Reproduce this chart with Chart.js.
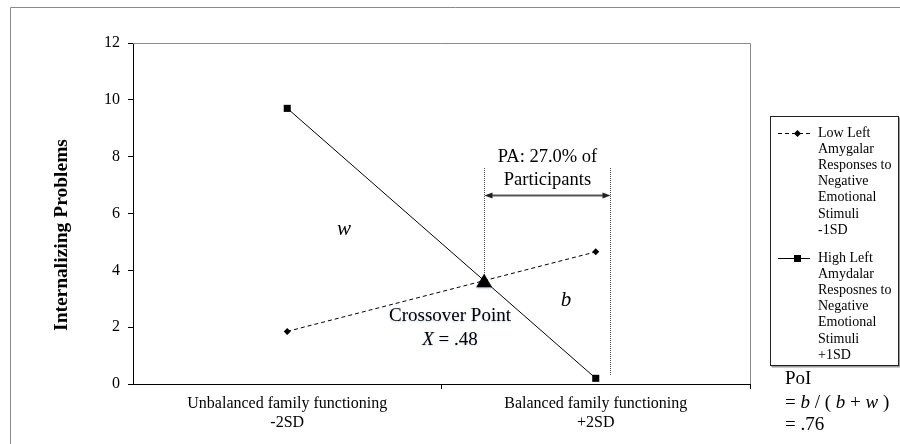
<!DOCTYPE html>
<html>
<head>
<meta charset="utf-8">
<script src="https://cdn.jsdelivr.net/npm/chart.js@4.4.1/dist/chart.umd.min.js"></script>
<style>
  html, body { margin: 0; padding: 0; background: #fff; }
  #wrap { width: 900px; height: 444px; }
</style>
</head>
<body>
<div id="wrap"><canvas id="c" width="900" height="444"></canvas></div>
<script>
// Family functioning levels (in SD units) and their axis labels
const familyLevels = [-2, 2];
const familyLabels = [
  ['Unbalanced family functioning', '-2SD'],
  ['Balanced family functioning', '+2SD']
];

// Internalizing problems for low (-1SD) and high (+1SD) left amygdala response
const lowAmygdala = [1.85, 4.65];
const highAmygdala = [9.7, 0.2];

// Y axis
const yTicks = [0, 2, 4, 6, 8, 10, 12];
const yTitle = 'Internalizing Problems';

// Legend entries
const legendLow = ['Low Left', 'Amygalar', 'Responses to', 'Negative', 'Emotional', 'Stimuli', '-1SD'];
const legendHigh = ['High Left', 'Amydalar', 'Resposnes to', 'Negative', 'Emotional', 'Stimuli', '+1SD'];

// Region of significance (PA) and index of interaction (PoI)
const paLines = ['PA: 27.0% of', 'Participants'];
const regionEndX = 2.18;     // right boundary of the PA region
const regionTopY = 7.6;      // top of the boundary lines
const regionBottomY = 0.32;  // bottom of the right boundary line
const arrowY = 6.65;         // level of the PA double arrow
const crossoverName = 'Crossover Point';
const crossoverX = '.48';
const poiValue = '.76';

const SERIF = '"Liberation Serif", "Times New Roman", serif';

// Where the two simple slopes cross, computed from the series
function crossing() {
  const [x0, x1] = familyLevels;
  const sL = (lowAmygdala[1] - lowAmygdala[0]) / (x1 - x0);
  const sH = (highAmygdala[1] - highAmygdala[0]) / (x1 - x0);
  const x = x0 + (highAmygdala[0] - lowAmygdala[0]) / (sL - sH);
  return { x, y: lowAmygdala[0] + sL * (x - x0) };
}

function text(ctx, str, x, y, font, align) {
  ctx.font = font;
  ctx.textAlign = align || 'center';
  ctx.textBaseline = 'middle';
  ctx.fillStyle = '#000';
  ctx.fillText(str, x, y);
}

// Draw a run of plain/italic pieces starting at x
function runs(ctx, parts, x, y, size) {
  ctx.textBaseline = 'middle';
  ctx.textAlign = 'left';
  ctx.fillStyle = '#000';
  for (const [s, it] of parts) {
    ctx.font = (it ? 'italic ' : '') + size + 'px ' + SERIF;
    ctx.fillText(s, x, y);
    x += ctx.measureText(s).width;
  }
  return x;
}

function runsWidth(ctx, parts, size) {
  let w = 0;
  for (const [s, it] of parts) {
    ctx.font = (it ? 'italic ' : '') + size + 'px ' + SERIF;
    w += ctx.measureText(s).width;
  }
  return w;
}

const overlay = {
  id: 'overlay',
  beforeDraw(chart) {
    const ctx = chart.ctx;
    ctx.save();
    ctx.fillStyle = '#fff';
    ctx.fillRect(0, 0, chart.width, chart.height);
    ctx.restore();
  },
  afterDatasetsDraw(chart) {
    const ctx = chart.ctx;
    const xs = chart.scales.x, ys = chart.scales.y;
    const a = chart.chartArea;
    ctx.save();

    // outer frame
    ctx.strokeStyle = '#8a8a8a';
    ctx.lineWidth = 1;
    ctx.beginPath();
    ctx.moveTo(10.5, chart.height + 2);
    ctx.lineTo(10.5, 7.5);
    ctx.lineTo(chart.width + 2, 7.5);
    ctx.stroke();

    // plot area top and right edges
    ctx.strokeStyle = '#8a8a8a';
    ctx.beginPath();
    ctx.moveTo(a.left, Math.round(a.top) + 0.5);
    ctx.lineTo(Math.round(a.right) + 0.5, Math.round(a.top) + 0.5);
    ctx.lineTo(Math.round(a.right) + 0.5, a.bottom);
    ctx.stroke();

    // crossover marker
    const c = crossing();
    const cx = xs.getPixelForValue(c.x), cy = ys.getPixelForValue(c.y);

    // PA boundary lines
    const rx = Math.round(xs.getPixelForValue(regionEndX)) + 0.5;
    const lx = Math.round(cx) + 0.5;
    const top = ys.getPixelForValue(regionTopY);
    ctx.strokeStyle = '#444';
    ctx.lineWidth = 1;
    ctx.setLineDash([1, 1]);
    ctx.beginPath();
    ctx.moveTo(lx, top); ctx.lineTo(lx, cy);
    ctx.moveTo(rx, top); ctx.lineTo(rx, ys.getPixelForValue(regionBottomY));
    ctx.stroke();
    ctx.setLineDash([]);

    // double arrow
    const ay = Math.round(ys.getPixelForValue(arrowY)) + 0.5;
    ctx.strokeStyle = '#555';
    ctx.fillStyle = '#222';
    ctx.lineWidth = 2;
    ctx.beginPath();
    ctx.moveTo(lx + 5, ay); ctx.lineTo(rx - 5, ay);
    ctx.stroke();
    ctx.beginPath();
    ctx.moveTo(lx, ay); ctx.lineTo(lx + 8, ay - 3); ctx.lineTo(lx + 8, ay + 3); ctx.closePath();
    ctx.moveTo(rx, ay); ctx.lineTo(rx - 8, ay - 3); ctx.lineTo(rx - 8, ay + 3); ctx.closePath();
    ctx.fill();

    // triangle at the crossing
    ctx.fillStyle = '#000';
    ctx.save();
    ctx.shadowColor = 'rgba(70,110,190,0.45)';
    ctx.shadowBlur = 2;
    ctx.shadowOffsetY = 1;
    ctx.beginPath();
    ctx.moveTo(cx, cy - 7);
    ctx.lineTo(cx + 8, cy + 6.5);
    ctx.lineTo(cx - 8, cy + 6.5);
    ctx.closePath();
    ctx.fill();
    ctx.restore();

    // PA label
    const pax = (lx + rx) / 2;
    text(ctx, paLines[0], pax, 157, '18.5px ' + SERIF);
    text(ctx, paLines[1], pax, 180, '18.5px ' + SERIF);

    // w and b regions
    text(ctx, 'w', 344, 229, 'italic 21px ' + SERIF);
    text(ctx, 'b', 566, 300, 'italic 21px ' + SERIF);

    // crossover label
    ctx.save();
    ctx.shadowColor = 'rgba(90,120,180,0.35)';
    ctx.shadowBlur = 2;
    ctx.shadowOffsetY = 1;
    text(ctx, crossoverName, 450, 316, '19px ' + SERIF);
    const xParts = [['X', true], [' = ' + crossoverX, false]];
    const xw = runsWidth(ctx, xParts, 19);
    runs(ctx, xParts, 450 - xw / 2, 340, 19);
    ctx.restore();

    // y axis title
    ctx.save();
    ctx.translate(62, 235);
    ctx.rotate(-Math.PI / 2);
    text(ctx, yTitle, 0, 0, 'bold 19.5px ' + SERIF);
    ctx.restore();

    // legend box
    const L = 770.5, T = 116.5, R = 898.5, B = 365.5;
    ctx.strokeStyle = '#9a9a9a';
    ctx.lineWidth = 2;
    ctx.beginPath();
    ctx.moveTo(L + 1, B + 1); ctx.lineTo(R + 1, B + 1); ctx.lineTo(R + 1, T + 1);
    ctx.stroke();
    ctx.strokeStyle = '#222';
    ctx.lineWidth = 1;
    ctx.strokeRect(L, T, R - L, B - T);

    const ds = chart.data.datasets;
    // low entry symbol
    ctx.strokeStyle = ds[0].borderColor;
    ctx.lineWidth = 1;
    ctx.setLineDash(ds[0].borderDash);
    ctx.beginPath();
    ctx.moveTo(778, 133.5); ctx.lineTo(813, 133.5);
    ctx.stroke();
    ctx.setLineDash([]);
    ctx.fillStyle = '#000';
    ctx.beginPath();
    ctx.moveTo(797.5, 130); ctx.lineTo(801, 133.5); ctx.lineTo(797.5, 137); ctx.lineTo(794, 133.5);
    ctx.closePath(); ctx.fill();
    // high entry symbol
    ctx.strokeStyle = ds[1].borderColor;
    ctx.beginPath();
    ctx.moveTo(778, 258.5); ctx.lineTo(810, 258.5);
    ctx.stroke();
    ctx.fillRect(794, 255, 7, 7);

    legendLow.forEach((s, i) => text(ctx, s, 818, 133 + i * 16.2, '14px ' + SERIF, 'left'));
    legendHigh.forEach((s, i) => text(ctx, s, 818, 258 + i * 16.2, '14px ' + SERIF, 'left'));

    // PoI
    text(ctx, 'PoI', 785, 379, '19px ' + SERIF, 'left');
    runs(ctx, [['= ', false], ['b', true], [' / ( ', false], ['b', true], [' + ', false], ['w', true], [' )', false]], 785, 403, 19);
    text(ctx, '= ' + poiValue, 785, 425, '19px ' + SERIF, 'left');

    ctx.restore();
  }
};

const toPoints = vals => familyLevels.map((x, i) => ({ x, y: vals[i] }));

new Chart(document.getElementById('c'), {
  type: 'line',
  data: {
    datasets: [
      {
        label: legendLow.join(' '),
        data: toPoints(lowAmygdala),
        borderColor: '#000',
        borderWidth: 1,
        borderDash: [4, 3],
        pointStyle: 'rectRot',
        pointRadius: 3.5,
        pointBackgroundColor: '#000',
        pointBorderColor: '#000',
        pointBorderWidth: 0,
        tension: 0
      },
      {
        label: legendHigh.join(' '),
        data: toPoints(highAmygdala),
        borderColor: '#000',
        borderWidth: 1,
        pointStyle: 'rect',
        pointRadius: 5,
        pointBackgroundColor: '#000',
        pointBorderColor: '#000',
        pointBorderWidth: 0,
        tension: 0
      }
    ]
  },
  options: {
    responsive: false,
    animation: false,
    devicePixelRatio: 1,
    layout: { padding: { left: 0, top: 43, right: 150, bottom: 0 } },
    plugins: { legend: { display: false }, tooltip: { enabled: false } },
    scales: {
      x: {
        type: 'linear',
        min: -4,
        max: 4,
        afterBuildTicks: s => { s.ticks = [-4, familyLevels[0], 0, familyLevels[1], 4].map(v => ({ value: v })); },
        afterFit: s => { s.height = 60; },
        ticks: {
          autoSkip: false,
          maxRotation: 0,
          padding: 5,
          color: '#000',
          font: { family: SERIF, size: 16, lineHeight: 1.2 },
          callback: v => { const i = familyLevels.indexOf(v); return i >= 0 ? familyLabels[i] : ''; }
        },
        grid: {
          drawOnChartArea: false,
          drawTicks: true,
          tickLength: 5,
          color: ctx => (ctx.tick && familyLevels.indexOf(ctx.tick.value) < 0 && ctx.tick.value !== -4) ? '#000' : 'rgba(0,0,0,0)'
        },
        border: { color: '#000', width: 1 }
      },
      y: {
        min: yTicks[0],
        max: yTicks[yTicks.length - 1],
        afterBuildTicks: s => { s.ticks = yTicks.map(v => ({ value: v })); },
        afterFit: s => { s.width = 133; },
        ticks: {
          padding: 8,
          color: '#000',
          font: { family: SERIF, size: 16 }
        },
        grid: { drawOnChartArea: false, drawTicks: true, tickLength: 5, color: '#000' },
        border: { color: '#000', width: 1 }
      }
    }
  },
  plugins: [overlay]
});
</script>
</body>
</html>
